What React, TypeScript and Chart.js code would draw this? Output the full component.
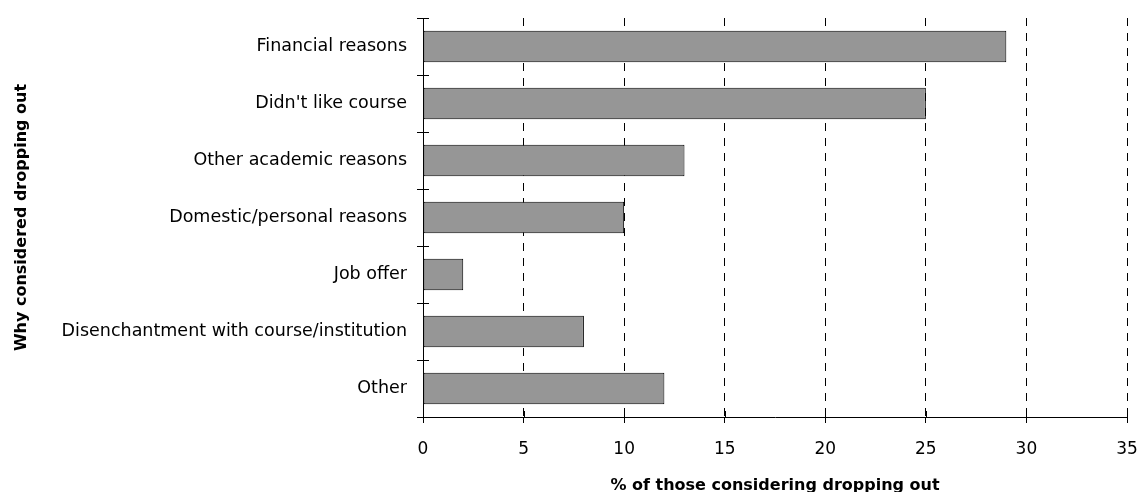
import React, { useEffect, useRef } from "react";
import { Chart, registerables } from "chart.js";

Chart.register(...registerables);

const categories = [
  "Financial reasons",
  "Didn't like course",
  "Other academic reasons",
  "Domestic/personal reasons",
  "Job offer",
  "Disenchantment with course/institution",
  "Other",
];
const values = [29, 25, 13, 10, 2, 8, 12];
const xTitle = "% of those considering dropping out";
const yTitle = "Why considered dropping out";
const xMin = 0;
const xMax = 35;
const xStep = 5;

const FONT = "'DejaVu Sans', Verdana, sans-serif";

const crossTicks = {
  id: "crossTicks",
  afterDraw(chart: any) {
    const ctx = chart.ctx;
    const x = chart.scales.x;
    const y = chart.scales.y;
    const area = chart.chartArea;
    ctx.save();
    ctx.strokeStyle = "#000";
    ctx.lineWidth = 1;
    ctx.beginPath();
    for (let i = 0; i <= categories.length; i++) {
      const py = Math.round(y.getPixelForValue(i - 0.5)) + 0.5;
      ctx.moveTo(area.left, py);
      ctx.lineTo(area.left + 6, py);
    }
    for (let v = xMin; v <= xMax; v += xStep) {
      const px = Math.round(x.getPixelForValue(v)) + 0.5;
      ctx.moveTo(px, area.bottom);
      ctx.lineTo(px, area.bottom - 6);
    }
    ctx.stroke();
    ctx.restore();
  },
};

export default function App() {
  const ref = useRef<HTMLCanvasElement>(null);
  useEffect(() => {
    document.body.style.margin = "0";
    const chart = new Chart(ref.current!, {
      type: "bar",
      data: {
        labels: categories,
        datasets: [
          {
            data: values,
            backgroundColor: "#969696",
            borderColor: "#000",
            borderWidth: 1,
            borderSkipped: false,
            barPercentage: 0.55,
            categoryPercentage: 1,
          },
        ],
      },
      options: {
        indexAxis: "y",
        animation: false,
        responsive: false,
        maintainAspectRatio: false,
        layout: { padding: { top: 18, right: 12, left: 12, bottom: 0 } },
        plugins: { legend: { display: false }, tooltip: { enabled: false } },
        scales: {
          x: {
            min: xMin,
            max: xMax,
            ticks: {
              stepSize: xStep,
              color: "#000",
              font: { family: FONT, size: 17 },
              padding: 16,
            },
            grid: {
              color: (c: any) => (c.tick && c.tick.value === 0 ? "rgba(0,0,0,0)" : "#000"),
              tickColor: "#000",
              tickLength: 6,
              drawTicks: true,
            },
            border: { display: true, color: "#000", dash: [8, 7] },
            title: {
              display: true,
              text: xTitle,
              color: "#000",
              font: { family: FONT, size: 16, weight: "bold" },
              padding: { top: 12, bottom: -3 },
            },
            afterFit(scale: any) {
              scale.height = 75;
              scale.paddingRight = 0;
              scale.paddingLeft = 0;
            },
          },
          y: {
            ticks: {
              color: "#000",
              font: { family: FONT, size: 17.5 },
              padding: 10,
            },
            grid: {
              offset: true,
              drawOnChartArea: false,
              tickColor: "#000",
              tickLength: 6,
            },
            border: { display: true, color: "#000" },
            title: {
              display: true,
              text: yTitle,
              color: "#000",
              font: { family: FONT, size: 16, weight: "bold" },
              padding: { top: 0, bottom: 0 },
            },
            afterFit(scale: any) {
              scale.width = 411;
              scale.paddingTop = 0;
              scale.paddingBottom = 0;
            },
          },
        },
      },
      plugins: [crossTicks],
    });
    return () => chart.destroy();
  }, []);
  return (
    <div style={{ position: "fixed", left: 0, top: 0, width: 1139, height: 492, background: "#fff" }}>
      <canvas ref={ref} width={1139} height={492} style={{ display: "block" }} />
    </div>
  );
}
